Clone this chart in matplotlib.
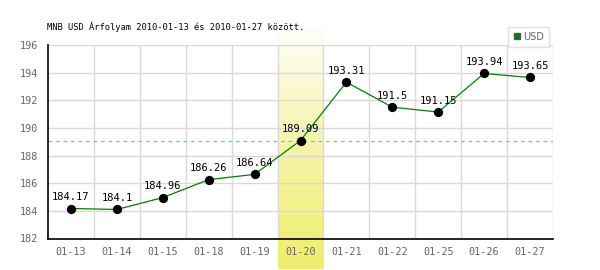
import numpy as np
import matplotlib
matplotlib.use("Agg")
import matplotlib.pyplot as plt
from matplotlib.colors import LinearSegmentedColormap
from matplotlib.lines import Line2D

categories = ["01-13", "01-14", "01-15", "01-18", "01-19", "01-20",
              "01-21", "01-22", "01-25", "01-26", "01-27"]
values = [184.17, 184.1, 184.96, 186.26, 186.64, 189.09,
          193.31, 191.5, 191.15, 193.94, 193.65]
value_labels = ["184.17", "184.1", "184.96", "186.26", "186.64", "189.09",
                "193.31", "191.5", "191.15", "193.94", "193.65"]
highlight_index = 5
reference_value = 189.09
yticks = [182, 184, 186, 188, 190, 192, 194, 196]
title = "MNB USD Árfolyam 2010-01-13 és 2010-01-27 között."
series_name = "USD"

W, H = 600, 270
fig = plt.figure(figsize=(6, 2.7), dpi=100)
ax = fig.add_axes([48 / W, 1 - 238.5 / H, (553 - 48) / W, (238.5 - 45) / H])
ax.patch.set_alpha(0)

mono = "DejaVu Sans Mono"
x = np.arange(len(categories))
ax.set_xlim(-0.5, len(categories) - 0.5)
ax.set_ylim(182, 196)

# grid
for b in np.arange(-0.5, len(categories) + 0.5, 1.0)[1:]:
    ax.axvline(b, color="#d9d9d9", lw=1, zorder=1)
for yv in yticks[1:]:
    ax.axhline(yv, color="#d9d9d9", lw=1, zorder=1)

# highlight gradient
cmap = LinearSegmentedColormap.from_list("hl", ["#fefef8", "#f6f4a8", "#efee6a"])
grad = np.linspace(0, 1, 256).reshape(-1, 1)
ax.imshow(grad, cmap=cmap, aspect="auto", origin="upper",
          extent=[highlight_index - 0.5, highlight_index + 0.5, 179.8, 197.1],
          clip_on=False, zorder=0)

ax.axhline(reference_value, color="#7fcc7f", lw=0.9, ls=(0, (3, 3)), zorder=2)

ax.plot(x, values, color="#008000", lw=0.9, zorder=3)
ax.scatter(x, values, s=32, color="black", zorder=4)
for xi, v, lab in zip(x, values, value_labels):
    ax.annotate(lab, (xi, v), xytext=(0, 4.5), textcoords="offset points",
                ha="center", va="bottom", fontsize=7.5, family=mono,
                color="black", zorder=5)

ax.set_xticks(x)
ax.set_xticklabels(categories, family=mono, fontsize=7.3, color="#666666")
ax.set_yticks(yticks)
ax.set_yticklabels([str(t) for t in yticks], family=mono, fontsize=7.3, color="#666666")
ax.tick_params(axis="both", length=0, pad=6)
ax.tick_params(axis="y", pad=7)
for s in ["top", "right"]:
    ax.spines[s].set_visible(False)
for s in ["left", "bottom"]:
    ax.spines[s].set_color("black")
    ax.spines[s].set_linewidth(1.2)

fig.text(47 / W, 1 - 27 / H, title, family=mono, fontsize=6.3, color="black",
         ha="left", va="center")

# legend
handle = Line2D([], [], marker="s", color="none", markerfacecolor="#008000",
                markeredgecolor="#555555", markersize=5)
leg = fig.legend([handle], [series_name], loc="upper right",
                 bbox_to_anchor=(553.5 / W, 1 - 22 / H), frameon=True,
                 fancybox=False, handlelength=0.7, handletextpad=0.3,
                 borderpad=0.5, prop={"family": "DejaVu Sans", "size": 7})
leg.get_frame().set_edgecolor("#d9d9d9")
leg.get_frame().set_linewidth(1)
for t in leg.get_texts():
    t.set_color("#666666")

fig.savefig("out.png", dpi=100)
